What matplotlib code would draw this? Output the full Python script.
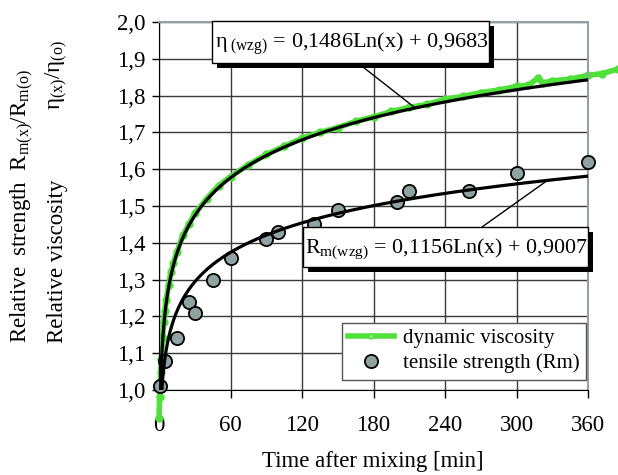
import numpy as np
import matplotlib.pyplot as plt
from matplotlib.lines import Line2D
from matplotlib.patches import Rectangle

plt.rcParams['font.family'] = ['Liberation Serif', 'DejaVu Serif']
plt.rcParams['mathtext.fontset'] = 'custom'
plt.rcParams['mathtext.rm'] = 'Liberation Serif'
plt.rcParams['mathtext.it'] = 'Liberation Serif:italic'

# dynamic viscosity trace
visc_t = [0, 0.5, 1, 1.5, 2, 3, 4, 5, 6, 8, 10, 12, 15, 20, 25, 30, 40, 50, 60,
          75, 90, 105, 120, 135, 150, 165, 180, 195, 210, 225, 240, 255, 270,
          285, 300, 310, 318, 322, 330, 345, 360, 372, 385]
visc_v = [0.925, 0.98, 1.02, 1.05, 1.085, 1.14, 1.185, 1.215, 1.245, 1.285,
          1.32, 1.345, 1.375, 1.42, 1.45, 1.48, 1.52, 1.555, 1.58, 1.612, 1.64,
          1.662, 1.684, 1.70, 1.713, 1.73, 1.742, 1.757, 1.768, 1.776, 1.79,
          1.798, 1.808, 1.815, 1.825, 1.828, 1.848, 1.834, 1.84, 1.845, 1.855,
          1.86, 1.872]

# tensile strength points
rm_t = [1, 5, 15, 25, 30, 45, 60, 90, 100, 130, 150, 200, 210, 260, 300, 360]
rm_v = [1.01, 1.08, 1.14, 1.24, 1.21, 1.30, 1.36, 1.41, 1.43, 1.45, 1.49,
        1.51, 1.54, 1.54, 1.59, 1.62]

# logarithmic trend coefficients shown on the chart
eta_a, eta_b = 0.1486, 0.9683
rm_a, rm_b = 0.1156, 0.9007

W, H = 618, 475
fig = plt.figure(figsize=(W / 100, H / 100), dpi=100)
ax = fig.add_axes([159 / W, 85 / H, 429 / W, 368 / H])

green = '#4fe03a'
ax.plot(visc_t, visc_v, color=green, lw=4, marker='o', ms=5, mec=green,
        clip_on=False, zorder=2)
ax.plot(rm_t, rm_v, 'o', ms=9.5, mfc='#8fa3a3', mec='black', mew=1.3,
        zorder=3, clip_on=False)

tt = np.linspace(1, 360, 600)
ax.plot(tt, eta_a * np.log(tt) + eta_b, color='black', lw=2.3, zorder=4)
ax.plot(tt, rm_a * np.log(tt) + rm_b, color='black', lw=2.3, zorder=4)

ax.set_xlim(0, 360)
ax.set_ylim(1.0, 2.0)
ax.set_xticks(range(0, 361, 60))
yt = np.round(np.arange(1.0, 2.01, 0.1), 1)
ax.set_yticks(yt)
ax.set_yticklabels([f'{v:.1f}'.replace('.', ',') for v in yt])
ax.tick_params(axis='x', direction='out', length=6, width=1, pad=12,
               labelsize=16.5)
ax.tick_params(axis='y', direction='out', length=5, width=1, pad=5,
               labelsize=16.5)
ax.set_axisbelow(True)
ax.grid(color='#3a3a3a', lw=1.0)
for s in ['top', 'right']:
    ax.spines[s].set_color('#90a2a2')
    ax.spines[s].set_linewidth(1.5)
for s in ['left', 'bottom']:
    ax.spines[s].set_color('black')

# axis titles
fig.text(22 / W, 1 - 343 / H,
         r'Relative  strength  R$_{\mathrm{m(x)}}$/R$_{\mathrm{m(o)}}$',
         rotation=90, ha='center', va='bottom', fontsize=16.5)
fig.text(57 / W, 1 - 343 / H, 'Relative viscosity', rotation=90,
         ha='center', va='bottom', fontsize=16.5)
fig.text(57 / W, 1 - 40 / H, r'η$_{\mathrm{(x)}}$/η$_{\mathrm{(o)}}$',
         rotation=90, ha='center', va='top', fontsize=16.5)
fig.text(373 / W, 1 - 462 / H, 'Time after mixing [min]', ha='center',
         va='center', fontsize=16.5)

# legend
handles = [Line2D([], [], color=green, lw=4, marker='o', ms=3.5,
                  mfc='#8ae87a', mec=green),
           Line2D([], [], ls='none', marker='o', ms=9.5, mfc='#8fa3a3',
                  mec='black', mew=1.3)]
leg = ax.legend(handles, ['dynamic viscosity', 'tensile strength (Rm)'],
                loc='upper left', bbox_to_anchor=(0.426, 0.183), fontsize=15,
                frameon=True, fancybox=False, edgecolor='#555555',
                framealpha=1, borderpad=0.3, handlelength=2.2,
                handletextpad=0.45, labelspacing=0.25, borderaxespad=0)
leg.get_frame().set_linewidth(1.0)
leg.set_zorder(10)


# equation boxes with drop shadow
def eq_box(x0, y0, x1, y1, txt, tx, ty, size):
    fig.patches.append(Rectangle((x0 + 5, H - y1 - 5), x1 - x0, y1 - y0,
                                 transform=None, fc='black', ec='none',
                                 zorder=5))
    fig.patches.append(Rectangle((x0, H - y1), x1 - x0, y1 - y0,
                                 transform=None, fc='white', ec='black',
                                 lw=1, zorder=6))
    fig.text(tx / W, 1 - ty / H, txt, ha='left', va='baseline',
             fontsize=size, zorder=7)


eq_box(212, 21, 489, 63,
       r'η$_{\ \mathrm{(wzg)}}$ = 0,1486Ln(x) + 0,9683', 215, 48, 16)
eq_box(303, 227, 588, 267,
       r'R$_{\mathrm{m(wzg)}}$ = 0,1156Ln(x) + 0,9007', 305, 253, 15.8)

# leader lines
ax.annotate('', xy=(215, eta_a * np.log(215) + eta_b), xycoords='data',
            xytext=(363 / W, 1 - 67 / H), textcoords='figure fraction',
            arrowprops=dict(arrowstyle='-', color='black', lw=1,
                            shrinkA=0, shrinkB=0))
ax.annotate('', xy=(326, rm_a * np.log(326) + rm_b), xycoords='data',
            xytext=(482 / W, 1 - 227 / H), textcoords='figure fraction',
            arrowprops=dict(arrowstyle='-', color='black', lw=1,
                            shrinkA=0, shrinkB=0))

fig.savefig('out.png', dpi=100)
